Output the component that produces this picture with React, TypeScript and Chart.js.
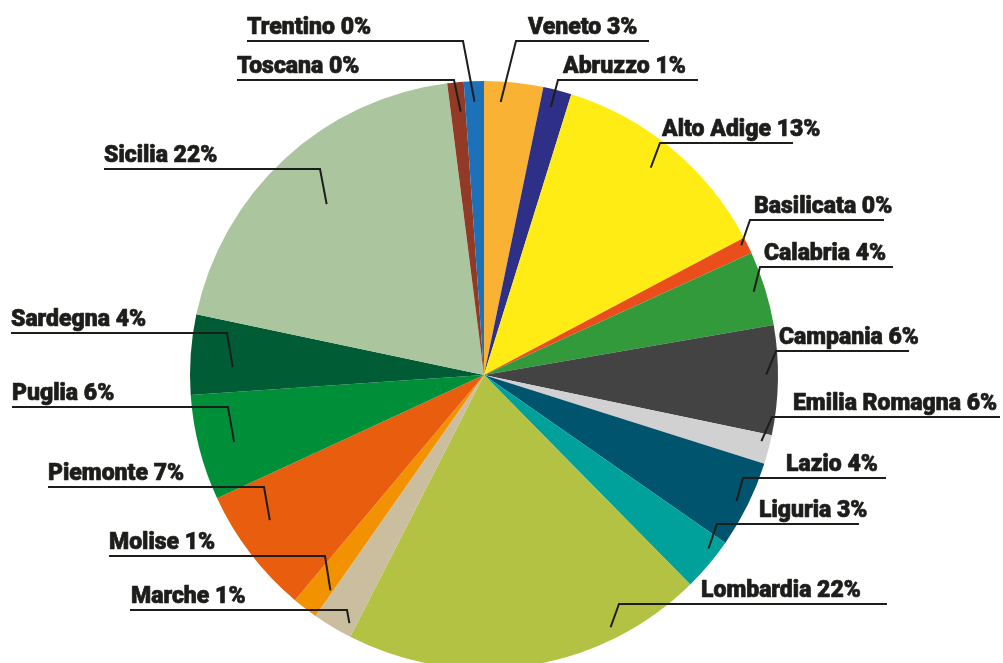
import React, { useEffect, useRef } from "react";
import { Chart, registerables } from "chart.js";

Chart.register(...registerables);

// ---- data ----
const regions = [
  "Veneto", "Abruzzo", "Alto Adige", "Basilicata", "Calabria", "Campania",
  "Emilia Romagna", "Lazio", "Liguria", "Lombardia", "Marche", "Molise",
  "Piemonte", "Puglia", "Sardegna", "Sicilia", "Toscana", "Trentino",
];
const shares = [
  3.24, 1.56, 12.47, 0.92, 4.1, 6.0,
  1.6, 4.8, 2.95, 19.9, 2.2, 1.4,
  7.0, 5.8, 4.4, 19.7, 0.9, 1.1,
];
const labelPercents = [3, 1, 13, 0, 4, 6, 6, 4, 3, 22, 1, 1, 7, 6, 4, 22, 0, 0];
const colors = [
  "#F9B233", "#2E3088", "#FFEC14", "#E94E1B", "#329A3A", "#434343",
  "#D1D1D1", "#00546E", "#00A19A", "#B3C243", "#CBBE9F", "#F39200",
  "#E95D0F", "#008F39", "#005C35", "#ABC69E", "#923A25", "#1D71B8",
];

// ---- label layout (side, text x, underline y, underline x0/x1, anchor fraction, anchor radius ratio) ----
type L = { side: "l" | "r"; tx: number; ly: number; x0: number; x1: number; f: number; rr: number };
const layout: L[] = [
  { side: "r", tx: 528, ly: 41, x0: 516, x1: 649, f: 0.3, rr: 0.93 },
  { side: "r", tx: 563, ly: 80, x0: 558, x1: 698, f: 0.42, rr: 0.94 },
  { side: "r", tx: 662, ly: 143, x0: 660, x1: 793, f: 0.48, rr: 0.905 },
  { side: "r", tx: 754, ly: 220, x0: 750, x1: 884, f: 0.33, rr: 0.98 },
  { side: "r", tx: 764, ly: 267, x0: 760, x1: 893, f: 0.5, rr: 0.96 },
  { side: "r", tx: 779, ly: 351, x0: 776, x1: 909, f: 0.45, rr: 0.96 },
  { side: "r", tx: 793, ly: 417, x0: 772, x1: 1000, f: 0.28, rr: 0.97 },
  { side: "r", tx: 786, ly: 478, x0: 743, x1: 886, f: 0.52, rr: 0.96 },
  { side: "r", tx: 759, ly: 524, x0: 717, x1: 859, f: 0.27, rr: 0.965 },
  { side: "r", tx: 701, ly: 604, x0: 619, x1: 887, f: 0.25, rr: 0.96 },
  { side: "l", tx: 131, ly: 610, x0: 130, x1: 347, f: 0.18, rr: 0.96 },
  { side: "l", tx: 109, ly: 556, x0: 109, x1: 325, f: 0.1, rr: 0.9 },
  { side: "l", tx: 48, ly: 487, x0: 48, x1: 264, f: 0.63, rr: 0.88 },
  { side: "l", tx: 12, ly: 407, x0: 12, x1: 228, f: 0.47, rr: 0.88 },
  { side: "l", tx: 11, ly: 333, x0: 11, x1: 227, f: 0.36, rr: 0.855 },
  { side: "l", tx: 104, ly: 169, x0: 104, x1: 320, f: 0.5, rr: 0.79 },
  { side: "l", tx: 237, ly: 80, x0: 237, x1: 454, f: 0.66, rr: 0.9 },
  { side: "l", tx: 247, ly: 41, x0: 247, x1: 463, f: 0.5, rr: 0.93 },
];

const INK = "#1D1D1B";

const leaderPlugin = {
  id: "leaders",
  afterDatasetsDraw(chart: any) {
    const ctx = chart.ctx as CanvasRenderingContext2D;
    const meta = chart.getDatasetMeta(0);
    ctx.save();
    meta.data.forEach((arc: any, i: number) => {
      const p = arc.getProps(["x", "y", "startAngle", "endAngle", "outerRadius"], true);
      const lay = layout[i];
      const a = p.startAngle + lay.f * (p.endAngle - p.startAngle);
      const ax = p.x + Math.cos(a) * p.outerRadius * lay.rr;
      const ay = p.y + Math.sin(a) * p.outerRadius * lay.rr;
      const ex = lay.side === "r" ? lay.x0 : lay.x1;
      ctx.strokeStyle = INK;
      ctx.lineWidth = 2;
      ctx.lineJoin = "miter";
      ctx.beginPath();
      ctx.moveTo(ax, ay);
      ctx.lineTo(ex, lay.ly);
      ctx.lineTo(lay.side === "r" ? lay.x1 : lay.x0, lay.ly);
      ctx.stroke();
    });
    ctx.fillStyle = INK;
    ctx.strokeStyle = INK;
    ctx.lineWidth = 0.7;
    ctx.lineJoin = "round";
    ctx.font = "900 23px Roboto";
    ctx.textBaseline = "alphabetic";
    ctx.textAlign = "left";
    meta.data.forEach((_: any, i: number) => {
      const lay = layout[i];
      const t = `${regions[i]} ${labelPercents[i]}%`;
      ctx.fillText(t, lay.tx, lay.ly - 7);
      ctx.strokeText(t, lay.tx, lay.ly - 7);
    });
    ctx.restore();
  },
};

export default function App() {
  const ref = useRef<HTMLCanvasElement | null>(null);
  useEffect(() => {
    if (!ref.current) return;
    const chart = new Chart(ref.current, {
      type: "pie",
      data: {
        labels: regions,
        datasets: [
          {
            data: shares,
            backgroundColor: colors,
            borderWidth: 0,
            radius: 294,
          } as any,
        ],
      },
      options: {
        animation: false,
        responsive: true,
        maintainAspectRatio: false,
        layout: { padding: { left: 0, right: 35, top: 87, bottom: 0 } },
        plugins: { legend: { display: false }, tooltip: { enabled: false } },
      },
      plugins: [leaderPlugin],
    });
    return () => chart.destroy();
  }, []);
  return (
    <div style={{ position: "fixed", left: 0, top: 0, width: 1003, height: 663, background: "#fff" }}>
      <canvas ref={ref} />
    </div>
  );
}
